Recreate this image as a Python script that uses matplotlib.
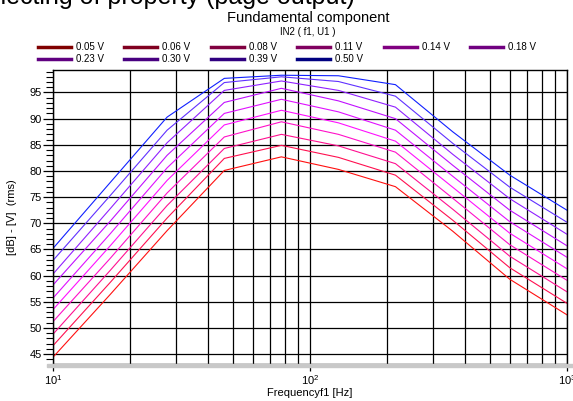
import matplotlib
matplotlib.use("Agg")
import matplotlib.pyplot as plt
from matplotlib.lines import Line2D
from matplotlib.patches import Rectangle
from matplotlib.ticker import MultipleLocator, LogLocator, NullFormatter

plt.rcParams['font.family'] = ['Liberation Sans', 'DejaVu Sans']

freqs = [10, 16.7, 27.8, 46.4, 77.4, 129, 215, 359, 599, 1000]
volts = ['0.05 V', '0.06 V', '0.08 V', '0.11 V', '0.14 V',
         '0.18 V', '0.23 V', '0.30 V', '0.39 V', '0.50 V']

# one list per input voltage, dB values at each frequency
lvl_005 = [44.4, 56.4, 68.6, 80.1, 82.7, 80.3, 77.0, 68.5, 59.3, 52.5]
lvl_006 = [46.6, 58.7, 71.0, 82.4, 84.9, 82.6, 79.2, 70.6, 61.5, 54.7]
lvl_008 = [48.8, 61.0, 73.4, 84.3, 87.0, 84.8, 81.4, 72.7, 63.7, 56.9]
lvl_011 = [51.2, 63.3, 75.8, 86.5, 89.4, 87.0, 83.6, 74.8, 65.9, 59.1]
lvl_014 = [53.5, 65.7, 78.2, 88.8, 91.6, 89.2, 85.7, 76.9, 68.1, 61.3]
lvl_018 = [55.7, 68.0, 80.6, 91.0, 93.7, 91.3, 87.8, 79.0, 70.3, 63.5]
lvl_023 = [58.2, 70.4, 83.0, 93.1, 95.8, 93.4, 90.0, 81.1, 72.5, 65.7]
lvl_030 = [60.3, 72.8, 85.4, 95.4, 97.2, 95.4, 92.2, 83.2, 74.7, 67.9]
lvl_039 = [62.9, 75.3, 87.8, 96.9, 98.0, 97.1, 94.3, 85.3, 76.9, 70.2]
lvl_050 = [65.2, 77.8, 90.3, 97.7, 98.3, 98.2, 96.5, 87.5, 79.2, 72.5]
levels = [lvl_005, lvl_006, lvl_008, lvl_011, lvl_014,
          lvl_018, lvl_023, lvl_030, lvl_039, lvl_050]

colors = ['#ff1010', '#ff1050', '#ff1090', '#ff10c8', '#ff10ff',
          '#e010ff', '#c010ff', '#9020ff', '#6030ff', '#1020ff']
leg_colors = ['#800000', '#800020', '#800040', '#800060', '#800080',
              '#700080', '#600080', '#480080', '#300080', '#000080']

W, H = 573, 401
fig = plt.figure(figsize=(W / 100, H / 100), dpi=100)
ax = fig.add_axes([53 / W, 1 - 363.5 / H, (567 - 53) / W, (363.5 - 70) / H])

for lv, c in zip(levels, colors):
    ax.plot(freqs, lv, color=c, lw=0.8)

ax.set_xscale('log')
ax.set_xlim(10, 1000)
ax.set_ylim(43.2, 99.3)
ax.yaxis.set_major_locator(MultipleLocator(5))
ax.yaxis.set_minor_locator(MultipleLocator(1))
ax.xaxis.set_minor_locator(LogLocator(base=10, subs=range(2, 10)))
ax.xaxis.set_minor_formatter(NullFormatter())
ax.grid(True, which='major', axis='y', color='black', lw=0.9)
ax.grid(True, which='both', axis='x', color='black', lw=0.9)
ax.set_axisbelow(True)
ax.tick_params(axis='y', which='major', length=7, width=0.9, labelsize=8, pad=1)
ax.tick_params(axis='y', which='minor', length=5, width=0.8)
ax.tick_params(axis='x', which='major', length=5, width=0.9, labelsize=8, pad=2)
ax.tick_params(axis='x', which='minor', length=0)
for s in ax.spines.values():
    s.set_color('black')
    s.set_linewidth(1.0)

ax.set_xlabel('Frequencyf1 [Hz]', fontsize=8, labelpad=1)
ax.set_ylabel('[dB] - [V]  (rms)', fontsize=8, labelpad=9)

# grey shadow under the x axis
fig.patches.append(Rectangle((47 / W, 1 - 367 / H), (W - 47) / W, 3 / H,
                             transform=fig.transFigure, color='#c8c8c8', zorder=0))

# headings (the first one is cut by the top edge, as in the original)
fig.text(-30 / W, 1 - 4 / H, 'Selecting of property (page output)', fontsize=18,
         ha='left', va='baseline')
fig.text(308 / W, 1 - 18 / H, 'Fundamental component', fontsize=10.5,
         ha='center', va='center')
fig.text(308 / W, 1 - 32 / H, 'IN2 ( f1, U1 )', fontsize=7, ha='center', va='center')

handles = [Line2D([], [], color=c, lw=2.5) for c in leg_colors]
order = [0, 6, 1, 7, 2, 8, 3, 9, 4, 5]
fig.legend([handles[i] for i in order], [volts[i] for i in order],
           loc='upper left', bbox_to_anchor=(38 / W, 1 - 42 / H), ncol=6,
           frameon=False, fontsize=7, handlelength=3.4, handletextpad=0.5,
           columnspacing=2.1, labelspacing=0.25, borderaxespad=0, borderpad=0)

fig.savefig('out.png', dpi=100)
